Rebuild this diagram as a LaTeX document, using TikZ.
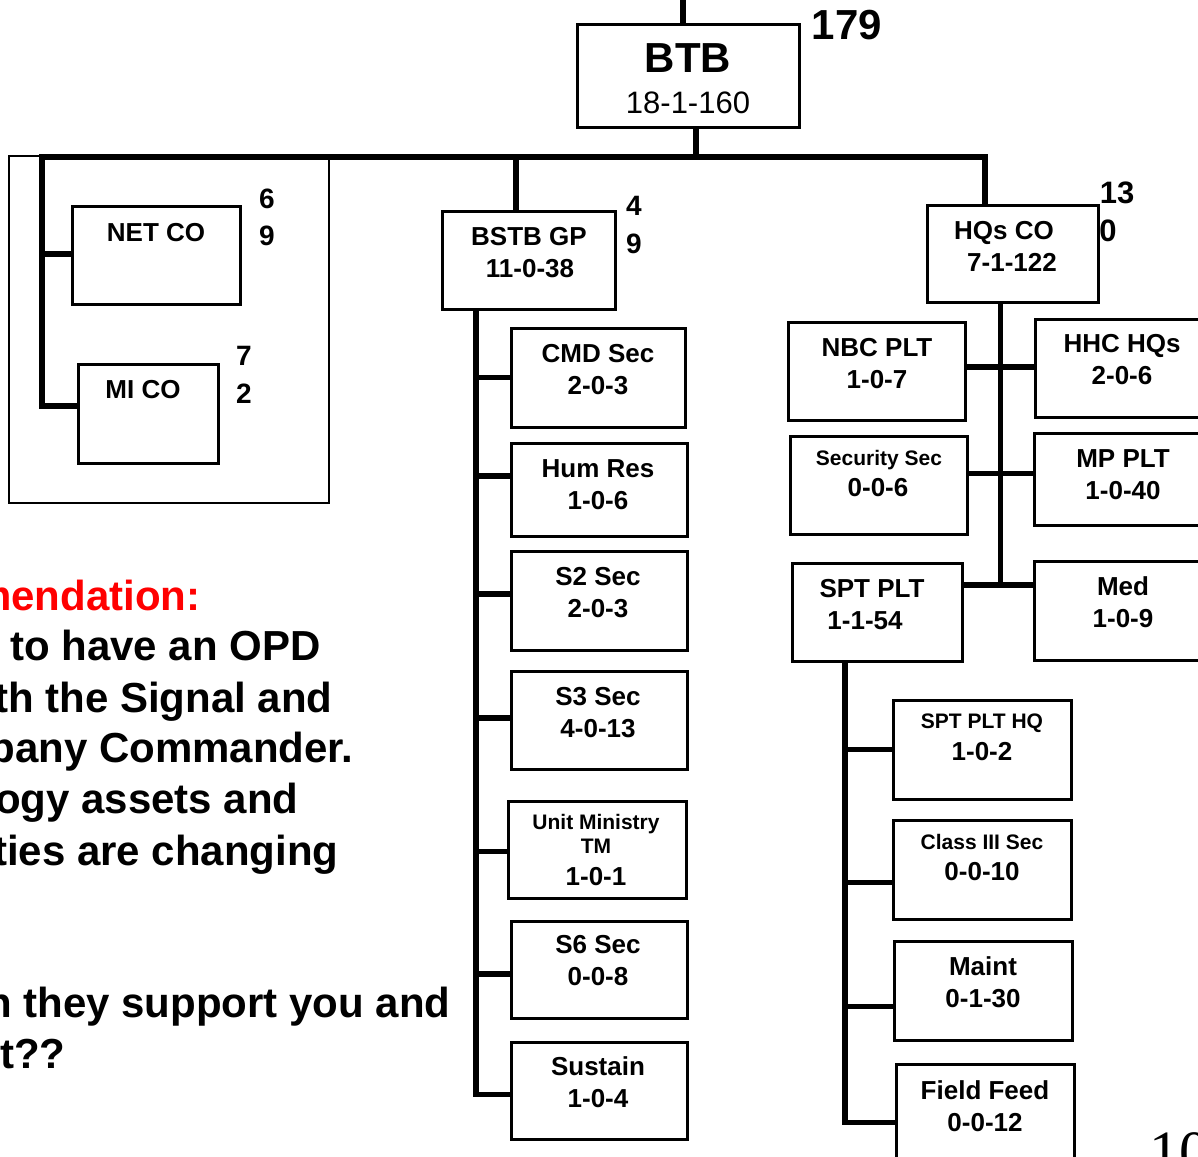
\documentclass[tikz,border=0pt]{standalone}
\usepackage{fontspec}
\setmainfont{Liberation Sans}
\newfontfamily\timesfont{Liberation Serif}
\usetikzlibrary{fit}
\tikzset{
  ubox/.style={draw=black, line width=1.5pt, inner sep=0pt},
  conn/.style={draw=black, line width=2.7pt},
  grpframe/.style={draw=black, line width=0.75pt, inner sep=0pt},
  tm/.style={font=\bfseries\fontsize{13}{15}\selectfont, inner sep=0pt, text height=9.3pt, text depth=0pt, anchor=center},
  ts/.style={font=\bfseries\fontsize{10.5}{12}\selectfont, inner sep=0pt, text height=7.5pt, text depth=0pt, anchor=center},
  tn/.style={font=\bfseries\fontsize{14}{16}\selectfont, inner sep=0pt, text height=10pt, text depth=0pt, anchor=center},
  tnb/.style={font=\bfseries\fontsize{15.5}{17}\selectfont, inner sep=0pt, text height=11.1pt, text depth=0pt, anchor=center},
  tbig/.style={font=\bfseries\fontsize{21}{24}\selectfont, inner sep=0pt, text height=15pt, text depth=0pt, anchor=center},
  treg/.style={font=\fontsize{15.5}{18}\selectfont, inner sep=0pt, text height=11.1pt, text depth=0pt, anchor=center},
  tleft/.style={font=\bfseries\fontsize{21}{24}\selectfont, inner sep=0pt, anchor=base east},
}
\newcommand\ubx[5]{\node[ubox, fit={(#2,#3) (#4,#5)}] (#1) {};}
\begin{document}
\begin{tikzpicture}[x=0.5pt,y=-0.5pt]
\useasboundingbox (0,0) rectangle (1198,1156);
\fill[white] (0,0) rectangle (1198,1156);
\clip (0,0) rectangle (1198,1156);

% ---------- boxes ----------
\ubx{btb}{577}{25}{799}{127}
\node[grpframe, fit={(9,156) (329,503)}] (grp) {};
\ubx{netco}{72}{206}{240}{304}
\ubx{mico}{78}{364}{218}{463}
\ubx{bstb}{442}{211}{615}{309}
\ubx{cmd}{511}{328}{685}{427}
\ubx{hum}{511}{443}{687}{536}
\ubx{s2}{511}{551}{687}{650}
\ubx{s3}{511}{671}{687}{769}
\ubx{umt}{508}{801}{686}{898}
\ubx{s6}{511}{921}{687}{1018}
\ubx{sus}{511}{1042}{687}{1139}
\ubx{hq}{927}{205}{1098}{302}
\ubx{nbc}{788}{322}{965}{420}
\ubx{hhc}{1035}{319}{1215}{417}
\ubx{sec}{790}{436}{967}{534}
\ubx{mp}{1034}{433}{1215}{525}
\ubx{spt}{792}{563}{962}{661}
\ubx{med}{1034}{561}{1215}{660}
\ubx{spthq}{893}{700}{1071}{799}
\ubx{cl3}{893}{820}{1071}{919}
\ubx{maint}{894}{941}{1072}{1040}
\ubx{ff}{896}{1064}{1074}{1180}

% ---------- connectors ----------
\coordinate (topin) at (683,0);
\draw[conn] (topin) -- (topin |- btb.north);
\coordinate (barL) at (42,157);
\coordinate (barR) at (985,157);
\coordinate (btbdown) at ([xshift=4pt]btb.south);
\draw[conn] (btbdown) -- (btbdown |- barL);
\coordinate (mico-c) at ([yshift=3.75pt]mico.west);
\coordinate (netco-c) at ([yshift=0.5pt]netco.west);
\draw[conn] (mico-c) -| (barL) -- (barR) -- (barR |- hq.north);
\draw[conn] (netco-c -| barL) -- (netco-c);

% BSTB branch
\coordinate (bstbup) at (516,157);
\draw[conn] (bstbup) -- (bstbup |- bstb.north);
\coordinate (bv) at ([xshift=-26.25pt]bstb.south);
\coordinate (cmd-c) at (cmd.west);
\coordinate (hum-c) at ([yshift=6.75pt]hum.west);
\coordinate (s2-c) at ([yshift=3.25pt]s2.west);
\coordinate (s3-c) at ([yshift=1pt]s3.west);
\coordinate (umt-c) at ([yshift=-1pt]umt.west);
\coordinate (s6-c) at ([yshift=-2.25pt]s6.west);
\coordinate (sus-c) at ([yshift=-2pt]sus.west);
\draw[conn] (bv) |- (sus-c);
\foreach \c in {cmd-c,hum-c,s2-c,s3-c,umt-c,s6-c}{
  \draw[conn] (\c -| bv) -- (\c);
}

% HQs CO branch
\coordinate (hv) at ([xshift=-6pt]hq.south);
\coordinate (r1) at ([yshift=2pt]nbc.east);
\coordinate (r2) at ([yshift=5.75pt]sec.east);
\coordinate (r3) at ([yshift=13.5pt]spt.east);
\draw[conn] (hv) -- (hv |- r3);
\draw[conn] (r1) -- (r1 -| hhc.west);
\draw[conn] (r2) -- (r2 -| mp.west);
\draw[conn] (r3) -- (r3 -| med.west);

% SPT PLT branch
\coordinate (sv) at ([xshift=-16pt]spt.south);
\coordinate (spthq-c) at (spthq.west);
\coordinate (cl3-c) at ([yshift=-6.5pt]cl3.west);
\coordinate (maint-c) at ([yshift=-8pt]maint.west);
\coordinate (ff-c) at ([yshift=-0.25pt]ff.west);
\draw[conn] (sv) |- (ff-c);
\foreach \c in {spthq-c,cl3-c,maint-c}{
  \draw[conn] (\c -| sv) -- (\c);
}

% ---------- texts ----------
\node[tbig] (t-btb1) at (688,58) {BTB};
\node[treg] (t-btb2) at (688,102) {18-1-160};
\node[tbig] (t-179) at (847,25) {179};

\node[tm] (t-net) at (156,232) {NET CO};
\node[tm] (t-mi) at (143,389) {MI CO};
\node[tn] (n-net1) at (267,198) {6};
\node[tn] (n-net2) at (267,235) {9};
\node[tn] (n-mi1) at (244,355) {7};
\node[tn] (n-mi2) at (244,393) {2};

\node[tm] (t-bstb1) at (529,236) {BSTB GP};
\node[tm] (t-bstb2) at (530,268) {11-0-38};
\node[tn] (n-bstb1) at (634,205) {4};
\node[tn] (n-bstb2) at (634,243) {9};

\node[tm] (t-cmd1) at (598,353) {CMD Sec};
\node[tm] (t-cmd2) at (598,385) {2-0-3};
\node[tm] (t-hum1) at (598,468) {Hum Res};
\node[tm] (t-hum2) at (598,500) {1-0-6};
\node[tm] (t-s21) at (598,576) {S2 Sec};
\node[tm] (t-s22) at (598,608) {2-0-3};
\node[tm] (t-s31) at (598,696) {S3 Sec};
\node[tm] (t-s32) at (598,728) {4-0-13};
\node[ts] (t-umt1) at (596,822) {Unit Ministry};
\node[ts] (t-umt2) at (596,846) {TM};
\node[tm] (t-umt3) at (596,876) {1-0-1};
\node[tm] (t-s61) at (598,944) {S6 Sec};
\node[tm] (t-s62) at (598,976) {0-0-8};
\node[tm] (t-sus1) at (598,1066) {Sustain};
\node[tm] (t-sus2) at (598,1098) {1-0-4};

\node[tm] (t-hq1) at (1004,230) {HQs CO};
\node[tm] (t-hq2) at (1012,262) {7-1-122};
\node[tnb] (n-hq1) at (1117,192) {13};
\node[tnb] (n-hq2) at (1108,230) {0};

\node[tm] (t-nbc1) at (877,347) {NBC PLT};
\node[tm] (t-nbc2) at (877,379) {1-0-7};
\node[tm] (t-hhc1) at (1122,343) {HHC HQs};
\node[tm] (t-hhc2) at (1122,375) {2-0-6};
\node[ts] (t-sec1) at (879,458) {Security Sec};
\node[tm] (t-sec2) at (878,487) {0-0-6};
\node[tm] (t-mp1) at (1123,458) {MP PLT};
\node[tm] (t-mp2) at (1123,490) {1-0-40};
\node[tm] (t-spt1) at (872,588) {SPT PLT};
\node[tm] (t-spt2) at (865,620) {1-1-54};
\node[tm] (t-med1) at (1123,586) {Med};
\node[tm] (t-med2) at (1123,618) {1-0-9};

\node[ts] (t-spthq1) at (982,721) {SPT PLT HQ};
\node[tm] (t-spthq2) at (982,751) {1-0-2};
\node[ts] (t-cl31) at (982,842) {Class III Sec};
\node[tm] (t-cl32) at (982,871) {0-0-10};
\node[tm] (t-maint1) at (983,966) {Maint};
\node[tm] (t-maint2) at (983,998) {0-1-30};
\node[tm] (t-ff1) at (985,1090) {Field Feed};
\node[tm] (t-ff2) at (985,1122) {0-0-12};

\node[font=\timesfont\fontsize{30}{34}\selectfont, inner sep=0pt, anchor=base west] (pg) at (1149,1172) {10};

% ---------- left text ----------
\node[tleft, text={rgb,255:red,255;green,0;blue,0}] (l1) at (201,610) {mendation:};
\node[tleft] (l2) at (321,660) {to have an OPD};
\node[tleft] (l3) at (333,712) {th the Signal and};
\node[tleft] (l4) at (354,762) {pany Commander.};
\node[tleft] (l5) at (299,813) {ogy assets and};
\node[tleft] (l6) at (339,865) {ties are changing};
\node[tleft] (l7) at (451,1017) {n they support you and};
\node[tleft] (l8) at (66,1068) {t??};
\end{tikzpicture}
\end{document}
